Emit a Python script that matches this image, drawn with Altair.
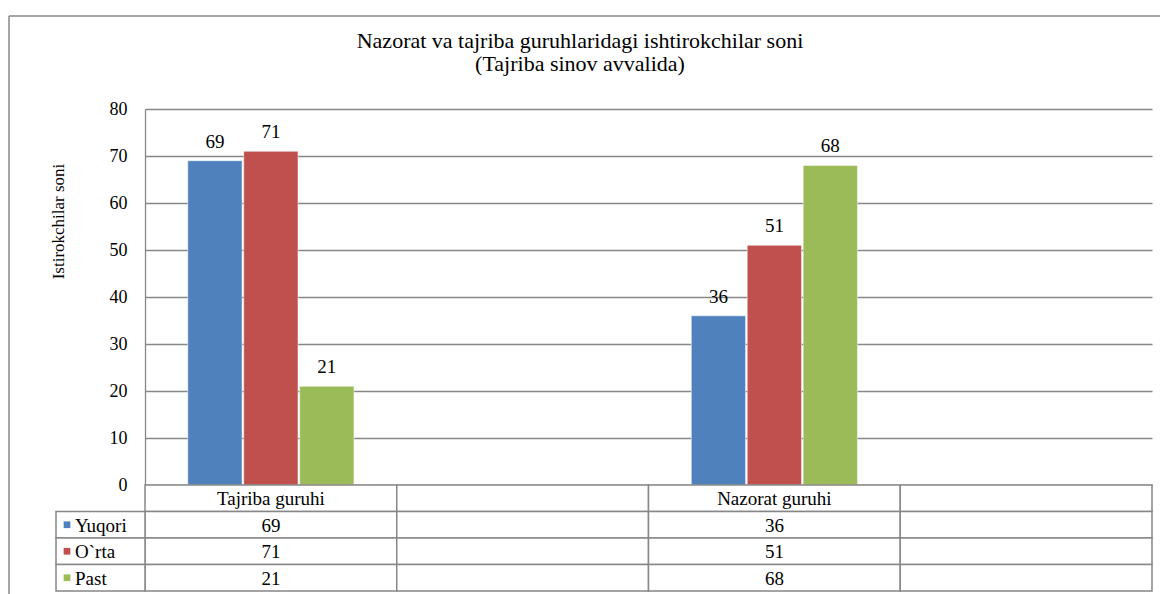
import altair as alt
import pandas as pd

# ---------------- data ----------------
title_lines = ["Nazorat va tajriba guruhlaridagi ishtirokchilar soni", "(Tajriba sinov  avvalida)"]
y_title = "Istirokchilar soni"
groups = ["Tajriba guruhi", "Nazorat guruhi"]
columns = ["Tajriba guruhi", "_blank1", "Nazorat guruhi", "_blank2"]
series = ["Yuqori", "O`rta", "Past"]
colors = ["#4F81BD", "#C0504D", "#9BBB59"]
yuqori = [69, 36]
orta = [71, 51]
past = [21, 68]
y_ticks = [0, 10, 20, 30, 40, 50, 60, 70, 80]

values = {"Yuqori": yuqori, "O`rta": orta, "Past": past}
bars = pd.DataFrame(
    [{"group": g, "series": s, "value": values[s][i]} for s in series for i, g in enumerate(groups)]
)

rows = ["_hdr"] + series
table = []
for r in rows:
    for c in columns:
        if r == "_hdr":
            txt = c if c in groups else ""
        else:
            txt = str(values[r][groups.index(c)]) if c in groups else ""
        table.append({"row": r, "col": c, "txt": txt})
table = pd.DataFrame(table)
legend_rows = pd.DataFrame({"row": series})

W, H = 1007, 376
GRAY = "#878787"
SERIF = "Liberation Serif"

x_enc = alt.X("group:N", scale=alt.Scale(domain=columns, paddingInner=0, paddingOuter=0), axis=None)
xo_enc = alt.XOffset("series:N", scale=alt.Scale(domain=series, paddingInner=0.03, paddingOuter=0.765))
y_enc = alt.Y(
    "value:Q",
    scale=alt.Scale(domain=[0, 80], nice=False),
    axis=alt.Axis(
        values=y_ticks, title=y_title, grid=True, gridColor=GRAY, gridWidth=1.3,
        domainColor=GRAY, domainWidth=1.3, ticks=False, labelPadding=18,
        labelFont=SERIF, labelFontSize=18, labelColor="black",
        titleFont=SERIF, titleFontSize=17, titleFontWeight="normal", titleColor="black",
        titleX=-87, titleY=112, titleAngle=270, titleAlign="center", titleBaseline="middle",
    ),
)
color_enc = alt.Color("series:N", scale=alt.Scale(domain=series, range=colors), legend=None)

base = alt.Chart(bars)
bar_layer = base.mark_bar(stroke="white", strokeWidth=0.5).encode(x=x_enc, xOffset=xo_enc, y=y_enc, color=color_enc)
lbl_layer = base.mark_text(dy=-13, baseline="alphabetic", font=SERIF, fontSize=19, color="black").encode(
    x=x_enc, xOffset=xo_enc, y="value:Q", text="value:Q"
)

one = alt.Chart(pd.DataFrame({"a": [0]}))
frame_top = one.mark_rule(color=GRAY, strokeWidth=1.5).encode(x=alt.value(-136), x2=alt.value(1015), y=alt.value(-93))
frame_left = one.mark_rule(color=GRAY, strokeWidth=1.5).encode(x=alt.value(-136), y=alt.value(-93), y2=alt.value(H))
title_layer = one.mark_text(
    font=SERIF, fontSize=22, color="black", align="center", baseline="alphabetic", lineBreak="\n", lineHeight=23
).encode(x=alt.value(435), y=alt.value(-61), text=alt.value("\n".join(title_lines)))

top = alt.layer(bar_layer, lbl_layer, frame_top, frame_left, title_layer).properties(width=W, height=H)

# ---------------- data table ----------------
tx = alt.X("col:N", scale=alt.Scale(domain=columns, paddingInner=0, paddingOuter=0), axis=None)
ty = alt.Y("row:N", scale=alt.Scale(domain=rows, paddingInner=0, paddingOuter=0), axis=None)
tb = alt.Chart(table)
cells = tb.mark_rect(fill="white", stroke=GRAY, strokeWidth=1.5).encode(x=tx, y=ty)
cell_txt = tb.mark_text(font=SERIF, fontSize=19, color="black", baseline="middle", dy=1).encode(x=tx, y=ty, text="txt:N")

lb = alt.Chart(legend_rows)
leg_cells = lb.mark_rect(fill="white", stroke=GRAY, strokeWidth=1.5).encode(x=alt.value(-89), x2=alt.value(0), y=ty)
leg_sq = lb.mark_square(size=45, opacity=1).encode(
    x=alt.value(-78), y=ty, color=alt.Color("row:N", scale=alt.Scale(domain=series, range=colors), legend=None)
)
leg_txt = lb.mark_text(font=SERIF, fontSize=19, color="black", align="left", baseline="middle", dy=1).encode(
    x=alt.value(-70), y=ty, text="row:N"
)
frame_left2 = one.mark_rule(color=GRAY, strokeWidth=1.5).encode(x=alt.value(-136), y=alt.value(0), y2=alt.value(109))

bottom = alt.layer(frame_left2, cells, cell_txt, leg_cells, leg_sq, leg_txt).properties(width=W, height=106)

chart = (
    alt.vconcat(top, bottom, spacing=0, bounds="flush")
    .resolve_scale(color="independent")
    .properties(padding={"left": 0, "top": 7, "right": 0, "bottom": 0}, background="white")
    .configure_view(strokeWidth=0)
)

chart.save("out.html", embed_options={"renderer": "svg", "actions": False})
